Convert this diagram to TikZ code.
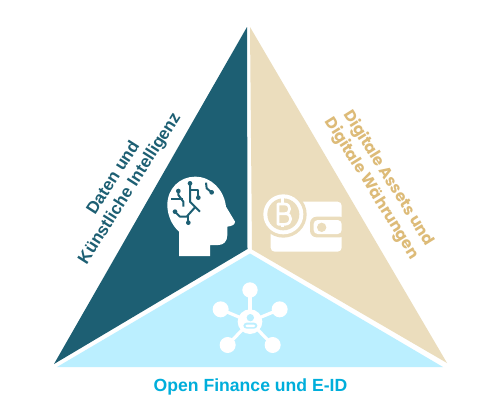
\documentclass[tikz,border=0pt]{standalone}
\usepackage{fontspec}
\setmainfont{Liberation Sans}
\newfontfamily\walletfont{Poppins}
\definecolor{tealdark}{HTML}{1D5F73}
\definecolor{beigelight}{HTML}{EBDDBD}
\definecolor{beigetext}{HTML}{DDBB78}
\definecolor{bluelight}{HTML}{BBEFFF}
\definecolor{bluetext}{HTML}{00AEDB}
\tikzset{
	circuit/.style={tealdark,line width=1.5pt,line join=round},
	chain/.style={white,line width=2.4pt},
}
\begin{document}
\begin{tikzpicture}[x=0.75pt,y=-0.75pt,line join=round]
	\useasboundingbox[fill=white] (0,0) rectangle (500,407);
	% --- Dreiecke ---
	\fill[tealdark] (247,27)--(247.5,249)--(54,364)--cycle;
	\fill[beigelight] (250,27)--(252,249.5)--(447,363)--cycle;
	\fill[bluelight] (250,253.5)--(443,367)--(57,367)--cycle;

	% --- Texte ---
	\node[tealdark,font=\bfseries\fontsize{12.8}{14.5}\selectfont,align=center,rotate=57.5] (ki) at (122,183.5) {Daten und\\Künstliche Intelligenz};
	\node[beigetext,font=\walletfont\bfseries\fontsize{11.8}{14.8}\selectfont,align=center,rotate=-58] (assets) at (380,183.5) {Digitale Assets und\\Digitale Währungen};
	\node[bluetext,font=\bfseries\fontsize{13.2}{15}\selectfont] (eid) at (250.5,386.5) {Open Finance und E-ID};

	% --- Kopf ---
	\begin{scope}[shift={(150,160)},x=0.25pt,y=-0.25pt]
		\fill[white] (87,288)--(87,215) .. controls (65,195) and (52,165) .. (52,135)
			.. controls (52,85) and (90,50) .. (135,50)
			.. controls (185,50) and (222,90) .. (228,140)
			--(255,185) .. controls (255,195) and (245,198) .. (232,200)
			--(232,225) .. controls (232,245) and (220,255) .. (205,255)
			--(180,255)--(180,288)--cycle;
		\draw[circuit] (85,93)--(85,105)--(100,125)--(100,140);
		\draw[circuit] (63,117)--(100,117);
		\draw[circuit] (120,70)--(120,125)--(150,155);
		\draw[circuit] (145,113)--(145,90)--(120,90);
		\draw[circuit] (75,155)--(90,170)--(110,170)--(135,142);
		\draw[circuit] (115,188)--(115,165);
		\draw[circuit] (168,68)--(170,85)--(185,97);
		\foreach \px/\py in {85/93,120/70,145/113,75/155,115/188,185/97}
			\fill[tealdark] (\px,\py) circle (7);
	\end{scope}

	% --- Wallet ---
	\begin{scope}[shift={(250,180)},x=0.25pt,y=-0.25pt]
		\fill[white,rounded corners=3pt] (62,65) rectangle (275,215);
		\fill[beigelight,rounded corners=5pt] (180,110) rectangle (290,172);
		\fill[white,rounded corners=3pt] (191,120) rectangle (275,162);
		\fill[beigelight] (215,142) circle (14);
		\fill[beigelight] (100,103) circle (70);
		\fill[white] (100,103) circle (60);
		\fill[beigelight] (100,103) circle (48);
		\draw[white,line width=2pt] (84,72)--(104,72) .. controls (124,72) and (124,101) .. (104,101)
			--(86,101)--(106,101) .. controls (128,101) and (128,133) .. (104,133)--(84,133)--cycle;
		\draw[white,line width=2pt] (97,55)--(97,72) (97,133)--(97,141);
	\end{scope}

	% --- Netzwerk ---
	\begin{scope}[shift={(195,285)},x=0.25pt,y=-0.25pt]
		\foreach \px/\py/\pr in {165/15/23,77/73/24,254/73/24,98/180/24,233/180/24}{
			\draw[chain] (165,110)--(\px,\py);
			\fill[white] (\px,\py) circle (\pr);
		}
		\fill[white] (165,110) circle (37);
		\fill[bluelight] (166,98) circle (11);
		\fill[bluelight,rounded corners=2.5pt] (145,131) rectangle (187,113);
		\fill[white,rounded corners=1pt] (151,126) rectangle (181,119);
	\end{scope}
\end{tikzpicture}
\end{document}
